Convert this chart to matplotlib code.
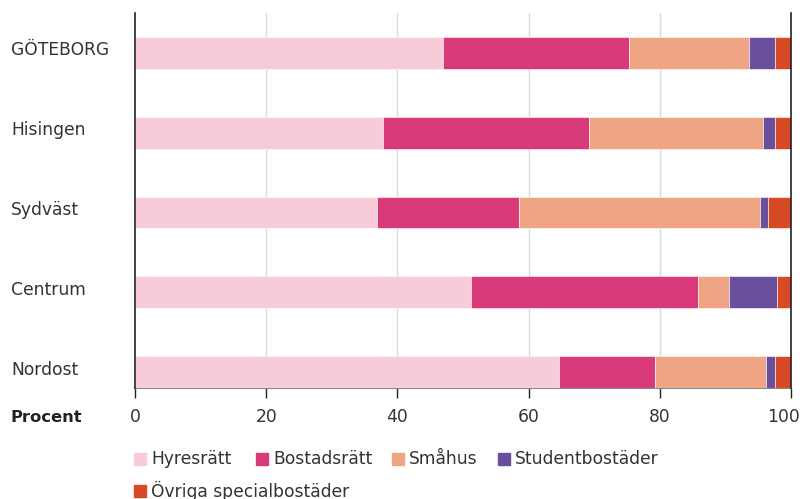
import matplotlib
matplotlib.use("Agg")
import matplotlib.pyplot as plt
from matplotlib.patches import Rectangle
import matplotlib.transforms as mtrans
import numpy as np

plt.rcParams['font.family'] = ['DejaVu Sans']

areas = ["GÖTEBORG", "Hisingen", "Sydväst", "Centrum", "Nordost"]
series = ["Hyresrätt", "Bostadsrätt", "Småhus", "Studentbostäder", "Övriga specialbostäder"]
hyresratt = [47.0, 37.8, 36.9, 51.2, 64.6]
bostadsratt = [28.3, 31.4, 21.6, 34.6, 14.7]
smahus = [18.3, 26.5, 36.8, 4.7, 16.9]
studentbostader = [4.0, 1.9, 1.2, 7.4, 1.4]
ovriga = [2.4, 2.4, 3.5, 2.1, 2.4]
x_ticks = [0, 20, 40, 60, 80, 100]

colors = ["#f8cbd9", "#d93a7a", "#efa584", "#6a4f9c", "#d84a26"]
values = [hyresratt, bostadsratt, smahus, studentbostader, ovriga]

W, H = 803, 499
fs = 12.3
fig = plt.figure(figsize=(W / 100, H / 100), dpi=100)
ax = fig.add_axes([135 / W, 1 - 388 / H, (791 - 135) / W, (388 - 13) / H])

ypos = np.arange(len(areas))[::-1]
left = np.zeros(len(areas))
for vals, col in zip(values, colors):
    ax.barh(ypos, vals, left=left, height=0.4, color=col, edgecolor="white",
            linewidth=0.4, zorder=3)
    left += np.array(vals)

ax.set_xlim(0, 100)
ax.set_ylim(-0.2, 4.5)
ax.set_xticks(x_ticks)
ax.set_xticklabels([str(t) for t in x_ticks])
ax.set_yticks(ypos)
ax.set_yticklabels(areas)

text_col = "#333333"
ax.tick_params(axis="y", length=0, pad=(135 - 11) * 0.72, labelsize=fs, labelcolor=text_col)
ax.tick_params(axis="x", length=7.2, width=1, color="#222222", pad=7,
               labelsize=fs, labelcolor=text_col, direction="out")

# category labels: left-aligned, sitting slightly above the bar centres
for lbl in ax.get_yticklabels():
    lbl.set_horizontalalignment("left")
    lbl.set_transform(lbl.get_transform() +
                      mtrans.ScaledTranslation(0, 4.5 / 100, fig.dpi_scale_trans))
# keep the last tick label inside the figure
last = ax.get_xticklabels()[-1]
last.set_transform(last.get_transform() +
                   mtrans.ScaledTranslation(-7 / 100, 0, fig.dpi_scale_trans))

for g in [20, 40, 60, 80]:
    ax.axvline(g, color="#cfdde3", linewidth=1, zorder=1)

ax.spines["top"].set_visible(False)
for s in ["left", "right"]:
    ax.spines[s].set_color("#222222")
    ax.spines[s].set_linewidth(1.2)
    ax.spines[s].set_zorder(5)
ax.spines["bottom"].set_color("#8a8a8a")
ax.spines["bottom"].set_linewidth(1.5)

fig.text(11 / W, 1 - 418 / H, "Procent", fontsize=fs - 0.5, fontweight="bold",
         color="#222222", va="center", ha="left")

# legend, laid out in two rows below the axis
legend_pos = [(134, 459), (256, 459), (392, 459), (498, 459), (134, 491)]
for (lx, ly), name, col in zip(legend_pos, series, colors):
    fig.add_artist(Rectangle((lx / W, 1 - (ly + 6) / H), 12 / W, 12 / H,
                             transform=fig.transFigure, color=col))
    fig.text((lx + 17) / W, 1 - ly / H, name, fontsize=fs, color=text_col,
             va="center", ha="left")

fig.savefig("out.png", dpi=100)
